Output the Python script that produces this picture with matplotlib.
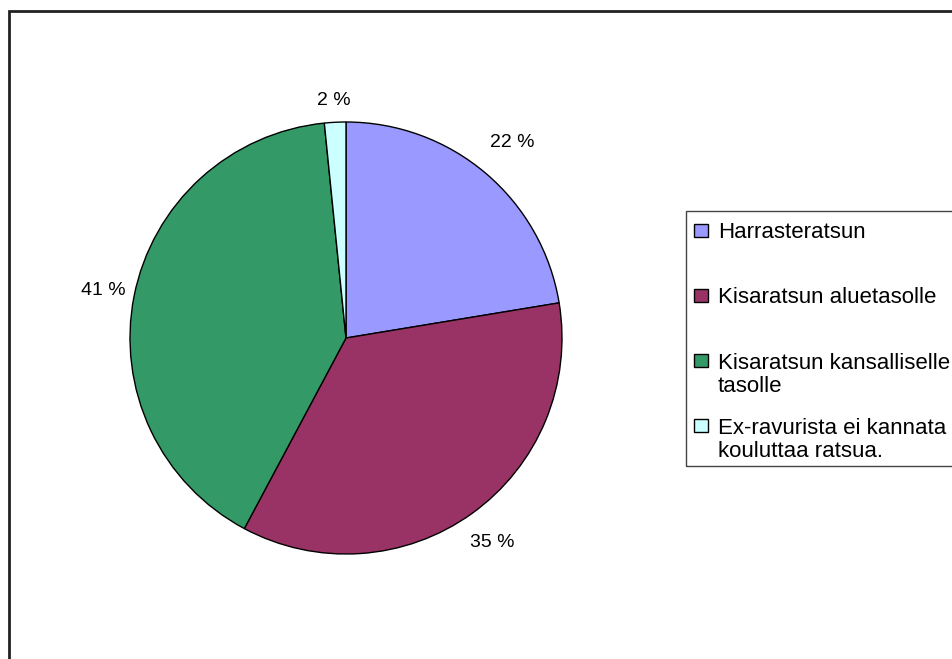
import matplotlib.pyplot as plt
from matplotlib.patches import Rectangle

plt.rcParams['font.family'] = ['Liberation Sans', 'DejaVu Sans']

# data
labels = ["Harrasteratsun", "Kisaratsun aluetasolle",
          "Kisaratsun kansalliselle\ntasolle",
          "Ex-ravurista ei kannata\nkouluttaa ratsua."]
shares = [22.4, 35.4, 40.6, 1.6]
colors = ["#9999FF", "#993366", "#339966", "#CCFFFF"]

W, H = 953, 659
fig = plt.figure(figsize=(W / 100, H / 100), dpi=100)


def fx(px):
    return px / W


def fy(py):
    return 1 - py / H


# outer chart frame (cut off at right and bottom)
fig.patches.append(Rectangle((fx(9), fy(700)), fx(1000) - fx(9), fy(11) - fy(700),
                             transform=fig.transFigure, fill=False,
                             edgecolor="#222222", lw=2))

# pie
cx, cy, r = 346, 338, 216
ax = fig.add_axes([fx(cx - r), fy(cy + r), 2 * r / W, 2 * r / H])
wedges, _, pcts = ax.pie(shares, colors=colors, startangle=90, counterclock=False,
                         autopct='%.0f %%', pctdistance=1.0,
                         wedgeprops=dict(edgecolor="black", linewidth=1),
                         textprops=dict(fontsize=14, color="black"))
ax.set_xlim(-1, 1)
ax.set_ylim(-1, 1)

# push the percentage labels out of the pie, like the original
label_dist = [1.19, 1.165, 1.145, 1.10]
for t, d in zip(pcts, label_dist):
    x, y = t.get_position()
    t.set_position((x * d, y * d))

# legend box
fig.patches.append(Rectangle((fx(686), fy(466)), fx(1000) - fx(686), fy(211) - fy(466),
                             transform=fig.transFigure, fill=False,
                             edgecolor="#444444", lw=1))
baselines = [238, 303, 368, 433]
line_h = 24
for w, lab, y in zip(wedges, labels, baselines):
    fig.patches.append(Rectangle((fx(694), fy(y - 1)), 14 / W, 13 / H,
                                 transform=fig.transFigure,
                                 facecolor=w.get_facecolor(), edgecolor="black", lw=1))
    last = y + line_h * lab.count("\n")
    fig.text(fx(718), fy(last), lab, fontsize=16, va="baseline", ha="left",
             linespacing=1.1)

fig.savefig("out.png", dpi=100)
